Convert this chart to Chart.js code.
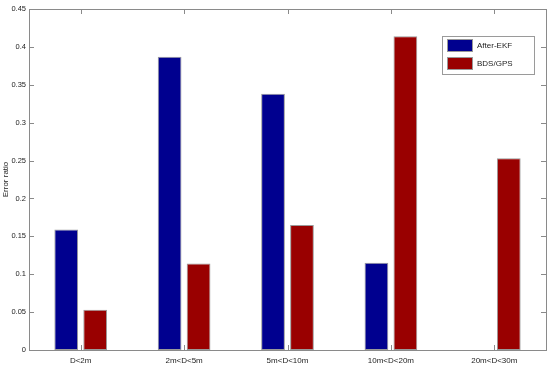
<!DOCTYPE html>
<html>
<head>
<meta charset="utf-8">
<script src="https://cdn.jsdelivr.net/npm/chart.js@4/dist/chart.umd.min.js"></script>
<style>
  html, body { margin: 0; padding: 0; background: #fff; }
  #wrap { width: 550px; height: 368px; }
</style>
</head>
<body>
<div id="wrap"><canvas id="errChart"></canvas></div>
<script>
const categories = ["D<2m", "2m<D<5m", "5m<D<10m", "10m<D<20m", "20m<D<30m"];
const afterEkf = [0.159, 0.387, 0.338, 0.115, 0];
const bdsGps = [0.053, 0.114, 0.165, 0.414, 0.253];
const yTicks = [0, 0.05, 0.1, 0.15, 0.2, 0.25, 0.3, 0.35, 0.4, 0.45];

const AXIS_COLOR = "#8a8a8a";
const FONT = "'Liberation Sans', Arial, sans-serif";

// matlab style box + inward ticks + legend box
const matlabAxes = {
  id: "matlabAxes",
  afterDatasetsDraw(chart) {
    const { ctx, chartArea: a, scales } = chart;
    const len = 5;
    ctx.save();
    ctx.strokeStyle = AXIS_COLOR;
    ctx.lineWidth = 1;
    ctx.beginPath();
    yTicks.forEach(v => {
      const y = Math.round(scales.y.getPixelForValue(v)) + 0.5;
      ctx.moveTo(a.left, y); ctx.lineTo(a.left + len, y);
      ctx.moveTo(a.right, y); ctx.lineTo(a.right - len, y);
    });
    categories.forEach((c, i) => {
      const x = Math.round(scales.x.getPixelForValue(i)) + 0.5;
      ctx.moveTo(x, a.bottom); ctx.lineTo(x, a.bottom - len);
      ctx.moveTo(x, a.top); ctx.lineTo(x, a.top + len);
    });
    ctx.stroke();
    ctx.strokeRect(Math.round(a.left) + 0.5, Math.round(a.top) + 0.5,
      Math.round(a.right - a.left), Math.round(a.bottom - a.top));

    // legend
    const lx = 442, ly = 36, lw = 92, lh = 38;
    ctx.fillStyle = "#fff";
    ctx.fillRect(lx, ly, lw, lh);
    ctx.strokeStyle = "#9a9a9a";
    ctx.strokeRect(lx + 0.5, ly + 0.5, lw, lh);
    ctx.font = "8px " + FONT;
    ctx.textBaseline = "middle";
    chart.data.datasets.forEach((ds, i) => {
      const ry = ly + 3 + i * 18;
      ctx.fillStyle = ds.backgroundColor;
      ctx.fillRect(lx + 5, ry, 26, 13);
      ctx.strokeStyle = "#999";
      ctx.strokeRect(lx + 5.5, ry + 0.5, 25, 12);
      ctx.fillStyle = "#222";
      ctx.fillText(ds.label, lx + 35, ry + 7);
    });
    ctx.restore();
  }
};

new Chart(document.getElementById("errChart"), {
  type: "bar",
  data: {
    labels: categories,
    datasets: [
      {
        label: "After-EKF",
        data: afterEkf,
        backgroundColor: "#00008f",
        borderColor: "#9a9a9a",
        borderWidth: 1,
        borderSkipped: false,
        categoryPercentage: 0.56,
        barPercentage: 0.82
      },
      {
        label: "BDS/GPS",
        data: bdsGps,
        backgroundColor: "#990000",
        borderColor: "#9a9a9a",
        borderWidth: 1,
        borderSkipped: false,
        categoryPercentage: 0.56,
        barPercentage: 0.82
      }
    ]
  },
  options: {
    responsive: true,
    maintainAspectRatio: false,
    animation: false,
    layout: { padding: { top: 9, right: 4 } },
    plugins: {
      legend: { display: false },
      tooltip: { enabled: false }
    },
    scales: {
      x: {
        offset: true,
        grid: { display: false, drawTicks: false },
        border: { display: false },
        ticks: { color: "#222", font: { family: FONT, size: 8 }, padding: 6, maxRotation: 0 },
        afterFit: s => { s.height = 18; }
      },
      y: {
        min: 0,
        max: 0.45,
        afterBuildTicks: s => { s.ticks = yTicks.map(v => ({ value: v })); },
        grid: { display: false, drawTicks: false },
        border: { display: false },
        ticks: {
          color: "#222",
          font: { family: FONT, size: 7.5 },
          padding: 3,
          callback: v => String(+v.toFixed(2))
        },
        title: {
          display: true,
          text: "Error ratio",
          color: "#222",
          font: { family: FONT, size: 8 },
          padding: { top: 1, bottom: 0 }
        },
        afterFit: s => { s.width = 29; }
      }
    }
  },
  plugins: [matlabAxes]
});
</script>
</body>
</html>
